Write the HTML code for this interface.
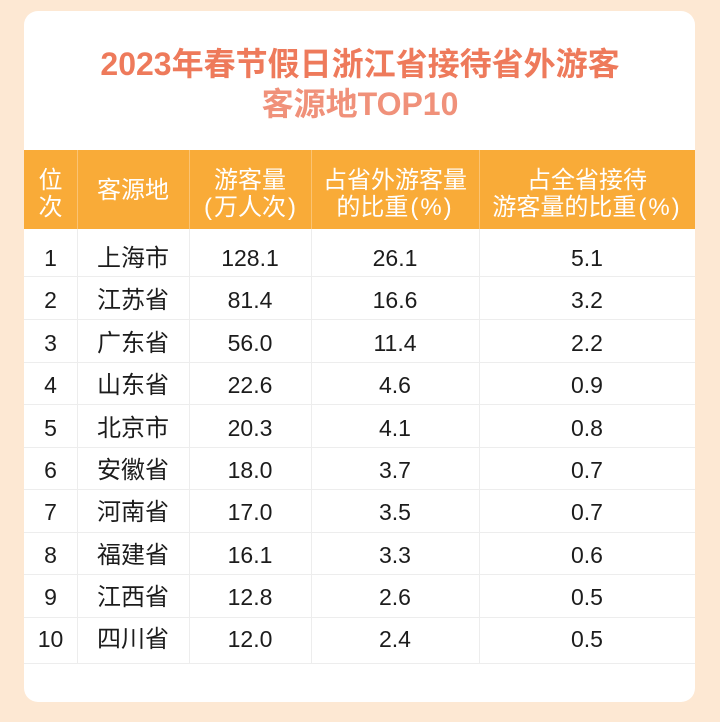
<!DOCTYPE html>
<html><head><meta charset="utf-8"><style>
html,body{margin:0;padding:0}
body{width:720px;height:722px;background:#fde8d3;position:relative;overflow:hidden;font-family:"Liberation Sans","Noto Sans CJK SC",sans-serif}
.card{position:absolute;left:24px;top:11px;width:671px;height:691px;background:#fff;border-radius:14px}
.t{position:absolute;left:0;width:720px;text-align:center;font-weight:bold;font-size:32px;line-height:38px}
.hdr{position:absolute;left:24px;top:150px;width:671px;height:79px;background:#f9ab38}
.vl{position:absolute;width:1px;background:#ededed;top:229px;height:435px}
.vh{position:absolute;width:1px;background:#fbc373;top:150px;height:79px}
.hl{position:absolute;left:24px;width:671px;height:1px;background:#ededed}
.c{position:absolute;text-align:center;color:#1c1c1c;font-size:23px;height:42px;line-height:42px;white-space:nowrap}
.c b{font-weight:normal;font-size:24px}
.h{position:absolute;text-align:center;color:#fff;font-size:24px;line-height:27px;white-space:nowrap}
.h i{font-style:normal;padding:0 2px}
</style></head><body>
<div class="card"></div>
<div class="t" style="top:45px;color:#ee7a5b">2023年春节假日浙江省接待省外游客</div>
<div class="t" style="top:85px;color:#f0917a">客源地TOP10</div>
<div class="hdr"></div>
<div class="vh" style="left:77px"></div>
<div class="vh" style="left:189px"></div>
<div class="vh" style="left:311px"></div>
<div class="vh" style="left:479px"></div>
<div class="vl" style="left:77px"></div>
<div class="vl" style="left:189px"></div>
<div class="vl" style="left:311px"></div>
<div class="vl" style="left:479px"></div>
<div class="h" style="left:24px;width:53px;top:167px">位<br>次</div>
<div class="h" style="left:77px;width:112px;top:177px">客源地</div>
<div class="h" style="left:189px;width:122px;top:167px">游客量<br><i>(</i>万人次<i>)</i></div>
<div class="h" style="left:311px;width:168px;top:167px">占省外游客量<br>的比重<i>(</i>%<i>)</i></div>
<div class="h" style="left:479px;width:216px;top:167px">占全省接待<br>游客量的比重<i>(</i>%<i>)</i></div>
<div class="hl" style="top:276px"></div>
<div class="hl" style="top:319px"></div>
<div class="hl" style="top:362px"></div>
<div class="hl" style="top:404px"></div>
<div class="hl" style="top:447px"></div>
<div class="hl" style="top:489px"></div>
<div class="hl" style="top:532px"></div>
<div class="hl" style="top:574px"></div>
<div class="hl" style="top:617px"></div>
<div class="hl" style="top:663px"></div>
<div class="c" style="left:24px;width:53px;top:237px">1</div><div class="c" style="left:77px;width:112px;top:237px"><b>上海市</b></div><div class="c" style="left:189px;width:122px;top:237px">128.1</div><div class="c" style="left:311px;width:168px;top:237px">26.1</div><div class="c" style="left:479px;width:216px;top:237px">5.1</div>
<div class="c" style="left:24px;width:53px;top:279px">2</div><div class="c" style="left:77px;width:112px;top:279px"><b>江苏省</b></div><div class="c" style="left:189px;width:122px;top:279px">81.4</div><div class="c" style="left:311px;width:168px;top:279px">16.6</div><div class="c" style="left:479px;width:216px;top:279px">3.2</div>
<div class="c" style="left:24px;width:53px;top:322px">3</div><div class="c" style="left:77px;width:112px;top:322px"><b>广东省</b></div><div class="c" style="left:189px;width:122px;top:322px">56.0</div><div class="c" style="left:311px;width:168px;top:322px">11.4</div><div class="c" style="left:479px;width:216px;top:322px">2.2</div>
<div class="c" style="left:24px;width:53px;top:364px">4</div><div class="c" style="left:77px;width:112px;top:364px"><b>山东省</b></div><div class="c" style="left:189px;width:122px;top:364px">22.6</div><div class="c" style="left:311px;width:168px;top:364px">4.6</div><div class="c" style="left:479px;width:216px;top:364px">0.9</div>
<div class="c" style="left:24px;width:53px;top:407px">5</div><div class="c" style="left:77px;width:112px;top:407px"><b>北京市</b></div><div class="c" style="left:189px;width:122px;top:407px">20.3</div><div class="c" style="left:311px;width:168px;top:407px">4.1</div><div class="c" style="left:479px;width:216px;top:407px">0.8</div>
<div class="c" style="left:24px;width:53px;top:449px">6</div><div class="c" style="left:77px;width:112px;top:449px"><b>安徽省</b></div><div class="c" style="left:189px;width:122px;top:449px">18.0</div><div class="c" style="left:311px;width:168px;top:449px">3.7</div><div class="c" style="left:479px;width:216px;top:449px">0.7</div>
<div class="c" style="left:24px;width:53px;top:491px">7</div><div class="c" style="left:77px;width:112px;top:491px"><b>河南省</b></div><div class="c" style="left:189px;width:122px;top:491px">17.0</div><div class="c" style="left:311px;width:168px;top:491px">3.5</div><div class="c" style="left:479px;width:216px;top:491px">0.7</div>
<div class="c" style="left:24px;width:53px;top:534px">8</div><div class="c" style="left:77px;width:112px;top:534px"><b>福建省</b></div><div class="c" style="left:189px;width:122px;top:534px">16.1</div><div class="c" style="left:311px;width:168px;top:534px">3.3</div><div class="c" style="left:479px;width:216px;top:534px">0.6</div>
<div class="c" style="left:24px;width:53px;top:576px">9</div><div class="c" style="left:77px;width:112px;top:576px"><b>江西省</b></div><div class="c" style="left:189px;width:122px;top:576px">12.8</div><div class="c" style="left:311px;width:168px;top:576px">2.6</div><div class="c" style="left:479px;width:216px;top:576px">0.5</div>
<div class="c" style="left:24px;width:53px;top:618px">10</div><div class="c" style="left:77px;width:112px;top:618px"><b>四川省</b></div><div class="c" style="left:189px;width:122px;top:618px">12.0</div><div class="c" style="left:311px;width:168px;top:618px">2.4</div><div class="c" style="left:479px;width:216px;top:618px">0.5</div>
</body></html>
